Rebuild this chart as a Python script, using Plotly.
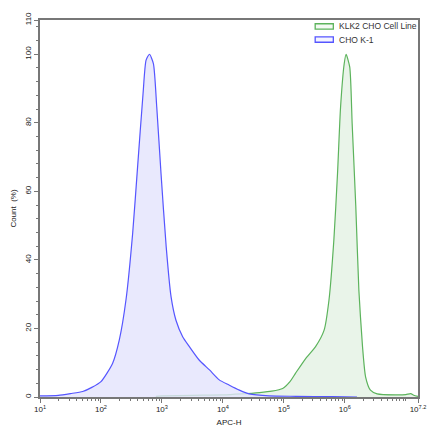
import plotly.graph_objects as go

# log10(APC-H) positions and Count (%) values
cho_logx = [1.0, 1.3, 1.5, 1.7, 1.85, 2.0, 2.19, 2.30, 2.41, 2.52, 2.60, 2.69, 2.74, 2.795,
            2.86, 2.915, 2.985, 3.07, 3.15, 3.23, 3.34, 3.45, 3.61, 3.78, 3.94, 4.10, 4.27,
            4.43, 4.76, 5.2, 5.8, 6.2]
cho_count = [0.3, 0.5, 1.0, 1.6, 2.8, 4.5, 9.8, 16.6, 28.3, 47.8, 67.0, 88.5, 98.3, 100.0,
             97.3, 84.6, 65.2, 43.8, 29.2, 22.4, 17.6, 14.7, 10.8, 7.9, 5.0, 3.5, 2.0,
             0.9, 0.3, 0.2, 0.1, 0.0]

klk2_logx = [2.9, 3.0, 3.5, 4.0, 4.3, 4.6, 4.8, 4.98, 5.1, 5.19, 5.36, 5.52, 5.66, 5.74,
             5.82, 5.88, 5.93, 5.99, 6.02, 6.08, 6.12, 6.18, 6.23, 6.29, 6.34, 6.42, 6.53,
             6.83, 7.0, 7.08, 7.13, 7.2]
klk2_count = [0.2, 0.3, 0.5, 0.6, 0.9, 1.3, 1.7, 2.5, 4.5, 6.9, 11.3, 14.7, 19.5, 28.3,
              45.8, 65.2, 84.6, 97.3, 100.0, 96.3, 79.8, 55.5, 31.2, 14.7, 5.9, 2.0, 0.9,
              0.6, 0.7, 1.0, 0.5, 0.2]

x_tick_exps = [1, 2, 3, 4, 5, 6, 7.2]
x_tick_text = ["10<sup>1</sup>", "10<sup>2</sup>", "10<sup>3</sup>", "10<sup>4</sup>",
               "10<sup>5</sup>", "10<sup>6</sup>", "10<sup>7.2</sup>"]
y_tick_vals = [0, 20, 40, 60, 80, 100, 110]

series_names = ["KLK2 CHO Cell Line", "CHO K-1"]
line_colors = ["#5cb35c", "#5555ff"]
fill_colors = ["rgba(225,240,225,0.75)", "rgba(228,228,252,0.8)"]
legend_fill = ["#f4faf4", "#f4f4ff"]

font = "Liberation Sans, Arial, sans-serif"

fig = go.Figure()
for name, lx, cnt, lc, fc in [(series_names[0], klk2_logx, klk2_count, line_colors[0], fill_colors[0]),
                               (series_names[1], cho_logx, cho_count, line_colors[1], fill_colors[1])]:
    fig.add_trace(go.Scatter(
        x=[10 ** e for e in lx], y=cnt, name=name, showlegend=False,
        mode="lines", line=dict(color=lc, width=1.2, shape="spline", smoothing=0.6),
        fill="tozeroy", fillcolor=fc))

# legend drawn as outlined boxes + labels (paper coordinates of the plot area)
legend_rows_y = [0.983, 0.948]
for name, lc, lf, yc in zip(series_names, line_colors, legend_fill, legend_rows_y):
    fig.add_shape(type="rect", xref="paper", yref="paper",
                  x0=0.728, x1=0.776, y0=yc - 0.007, y1=yc + 0.007,
                  line=dict(color=lc, width=1.3), fillcolor=lf, layer="above")
    fig.add_annotation(xref="paper", yref="paper", x=0.787, y=yc, text=name,
                       showarrow=False, xanchor="left", yanchor="middle",
                       font=dict(size=8.5, color="#333"))

fig.update_layout(
    width=440, height=440,
    margin=dict(l=37, r=22, t=19, b=43),
    paper_bgcolor="white", plot_bgcolor="white",
    font=dict(family=font, size=8, color="#222"),
    showlegend=False,
)
fig.update_xaxes(
    type="log", range=[1, 7.2],
    tickmode="array", tickvals=[10 ** e for e in x_tick_exps], ticktext=x_tick_text,
    ticks="outside", ticklen=4, tickcolor="#777",
    minor=dict(ticks="outside", ticklen=2, tickcolor="#777", dtick="D1"),
    showgrid=False, zeroline=False,
    showline=True, linecolor="#777", linewidth=1.5, mirror=True,
    title=dict(text="APC-H", font=dict(size=8), standoff=6),
)
fig.update_yaxes(
    range=[0, 110],
    tickmode="array", tickvals=y_tick_vals, tickangle=-90,
    ticks="outside", ticklen=4, tickcolor="#777",
    minor=dict(ticks="outside", ticklen=2, tickcolor="#777", dtick=4, tick0=0),
    showgrid=False, zeroline=False,
    showline=True, linecolor="#777", linewidth=1.5, mirror=True,
    title=dict(text="Count  (%)", font=dict(size=8), standoff=6),
)

fig.write_html("out.html")
